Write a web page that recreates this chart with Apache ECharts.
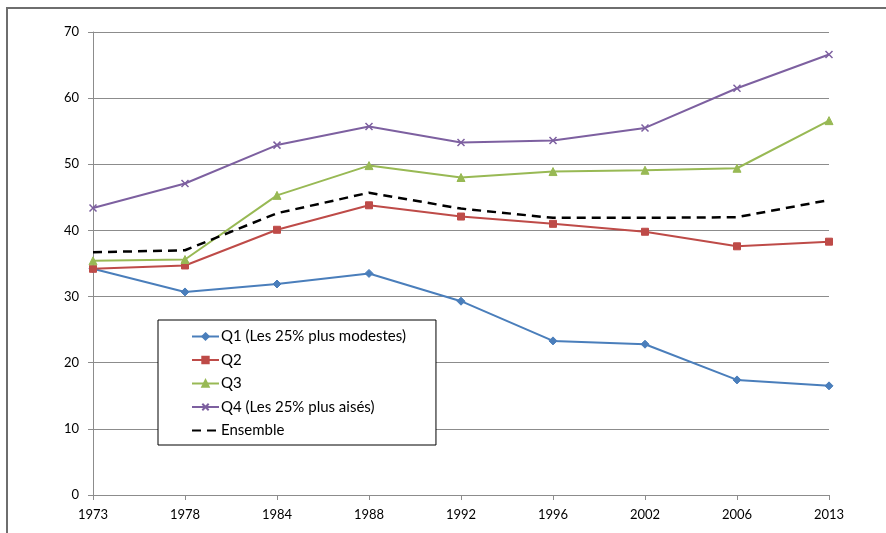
<!DOCTYPE html>
<html>
<head>
<meta charset="utf-8">
<script src="https://cdn.jsdelivr.net/npm/echarts@6/dist/echarts.min.js"></script>
<style>
html,body{margin:0;padding:0;background:#fff;}
#c{width:886px;height:533px;}
</style>
</head>
<body>
<div id="c"></div>
<script>
var years = ['1973','1978','1984','1988','1992','1996','2002','2006','2013'];
var q1 = [34.2, 30.7, 31.9, 33.5, 29.3, 23.3, 22.8, 17.4, 16.5];
var q2 = [34.2, 34.7, 40.1, 43.8, 42.1, 41.0, 39.8, 37.6, 38.3];
var q3 = [35.4, 35.6, 45.3, 49.8, 48.0, 48.9, 49.1, 49.4, 56.6];
var q4 = [43.4, 47.1, 52.9, 55.7, 53.3, 53.6, 55.5, 61.5, 66.6];
var ensemble = [36.7, 37.0, 42.6, 45.7, 43.3, 41.9, 41.9, 42.0, 44.6];
var seriesNames = ['Q1 (Les 25% plus modestes)', 'Q2', 'Q3', 'Q4 (Les 25% plus aisés)', 'Ensemble'];
var yTicks = {min: 0, max: 70, interval: 10};

var FONT = 'Lato';
var GRAY = '#8c8c8c';
var chart = echarts.init(document.getElementById('c'), null, {renderer: 'canvas'});

function lineSeries(name, data, color, symbol, size, extra) {
  var s = {
    name: name, type: 'line', data: data,
    symbol: symbol, symbolSize: size, showSymbol: true,
    lineStyle: {color: color, width: 2},
    itemStyle: {color: color, borderColor: color, borderWidth: 1},
    emphasis: {disabled: true},
    animation: false
  };
  if (extra) { for (var k in extra) s[k] = extra[k]; }
  return s;
}

var xMark = 'path://M0,0L10,10M10,0L0,10';

var legendData = seriesNames.map(function (n, i) {
  if (i === 4) return {name: n, itemStyle: {opacity: 0}};
  return {name: n};
});

chart.setOption({
  backgroundColor: '#fff',
  animation: false,
  graphic: [{
    type: 'rect', z: -10,
    shape: {x: 7, y: 8, width: 1000, height: 1000},
    style: {fill: 'none', stroke: '#6e6e6e', lineWidth: 2}
  }],
  grid: {left: 93, right: 57, top: 32, bottom: 38, containLabel: false},
  legend: {
    orient: 'vertical',
    left: 158, top: 320,
    padding: [8, 30, 6, 33],
    itemGap: 6.5,
    itemWidth: 27, itemHeight: 8,
    backgroundColor: '#fff',
    borderColor: '#000', borderWidth: 1,
    textStyle: {fontFamily: FONT, fontSize: 15, color: '#000', lineHeight: 17, padding: [0,0,0,-3]},
    data: legendData
  },
  xAxis: {
    type: 'category', data: years, boundaryGap: false,
    axisLine: {lineStyle: {color: GRAY, width: 1}},
    axisTick: {show: true, alignWithLabel: true, length: 5, lineStyle: {color: GRAY}},
    axisLabel: {fontFamily: FONT, fontSize: 13, color: '#000', margin: 13},
    splitLine: {show: false}
  },
  yAxis: {
    type: 'value', min: yTicks.min, max: yTicks.max, interval: yTicks.interval,
    axisLine: {show: true, lineStyle: {color: GRAY, width: 1}},
    axisTick: {show: true, length: 5, lineStyle: {color: GRAY}},
    axisLabel: {fontFamily: FONT, fontSize: 13, color: '#000', margin: 14},
    splitLine: {show: true, lineStyle: {color: GRAY, width: 1}}
  },
  series: [
    lineSeries(seriesNames[0], q1, '#4a7ebb', 'diamond', 8),
    lineSeries(seriesNames[1], q2, '#be4b48', 'rect', 7),
    lineSeries(seriesNames[2], q3, '#98b954', 'triangle', 8),
    lineSeries(seriesNames[3], q4, '#7d60a0', xMark, 7, {itemStyle: {color: '#7d60a0', borderColor: '#7d60a0', borderWidth: 1.5}}),
    lineSeries(seriesNames[4], ensemble, '#000', 'none', 0, {lineStyle: {color: '#000', width: 2.5, type: [9, 6]}, itemStyle: {color: '#000'}})
  ]
});
</script>
</body>
</html>
